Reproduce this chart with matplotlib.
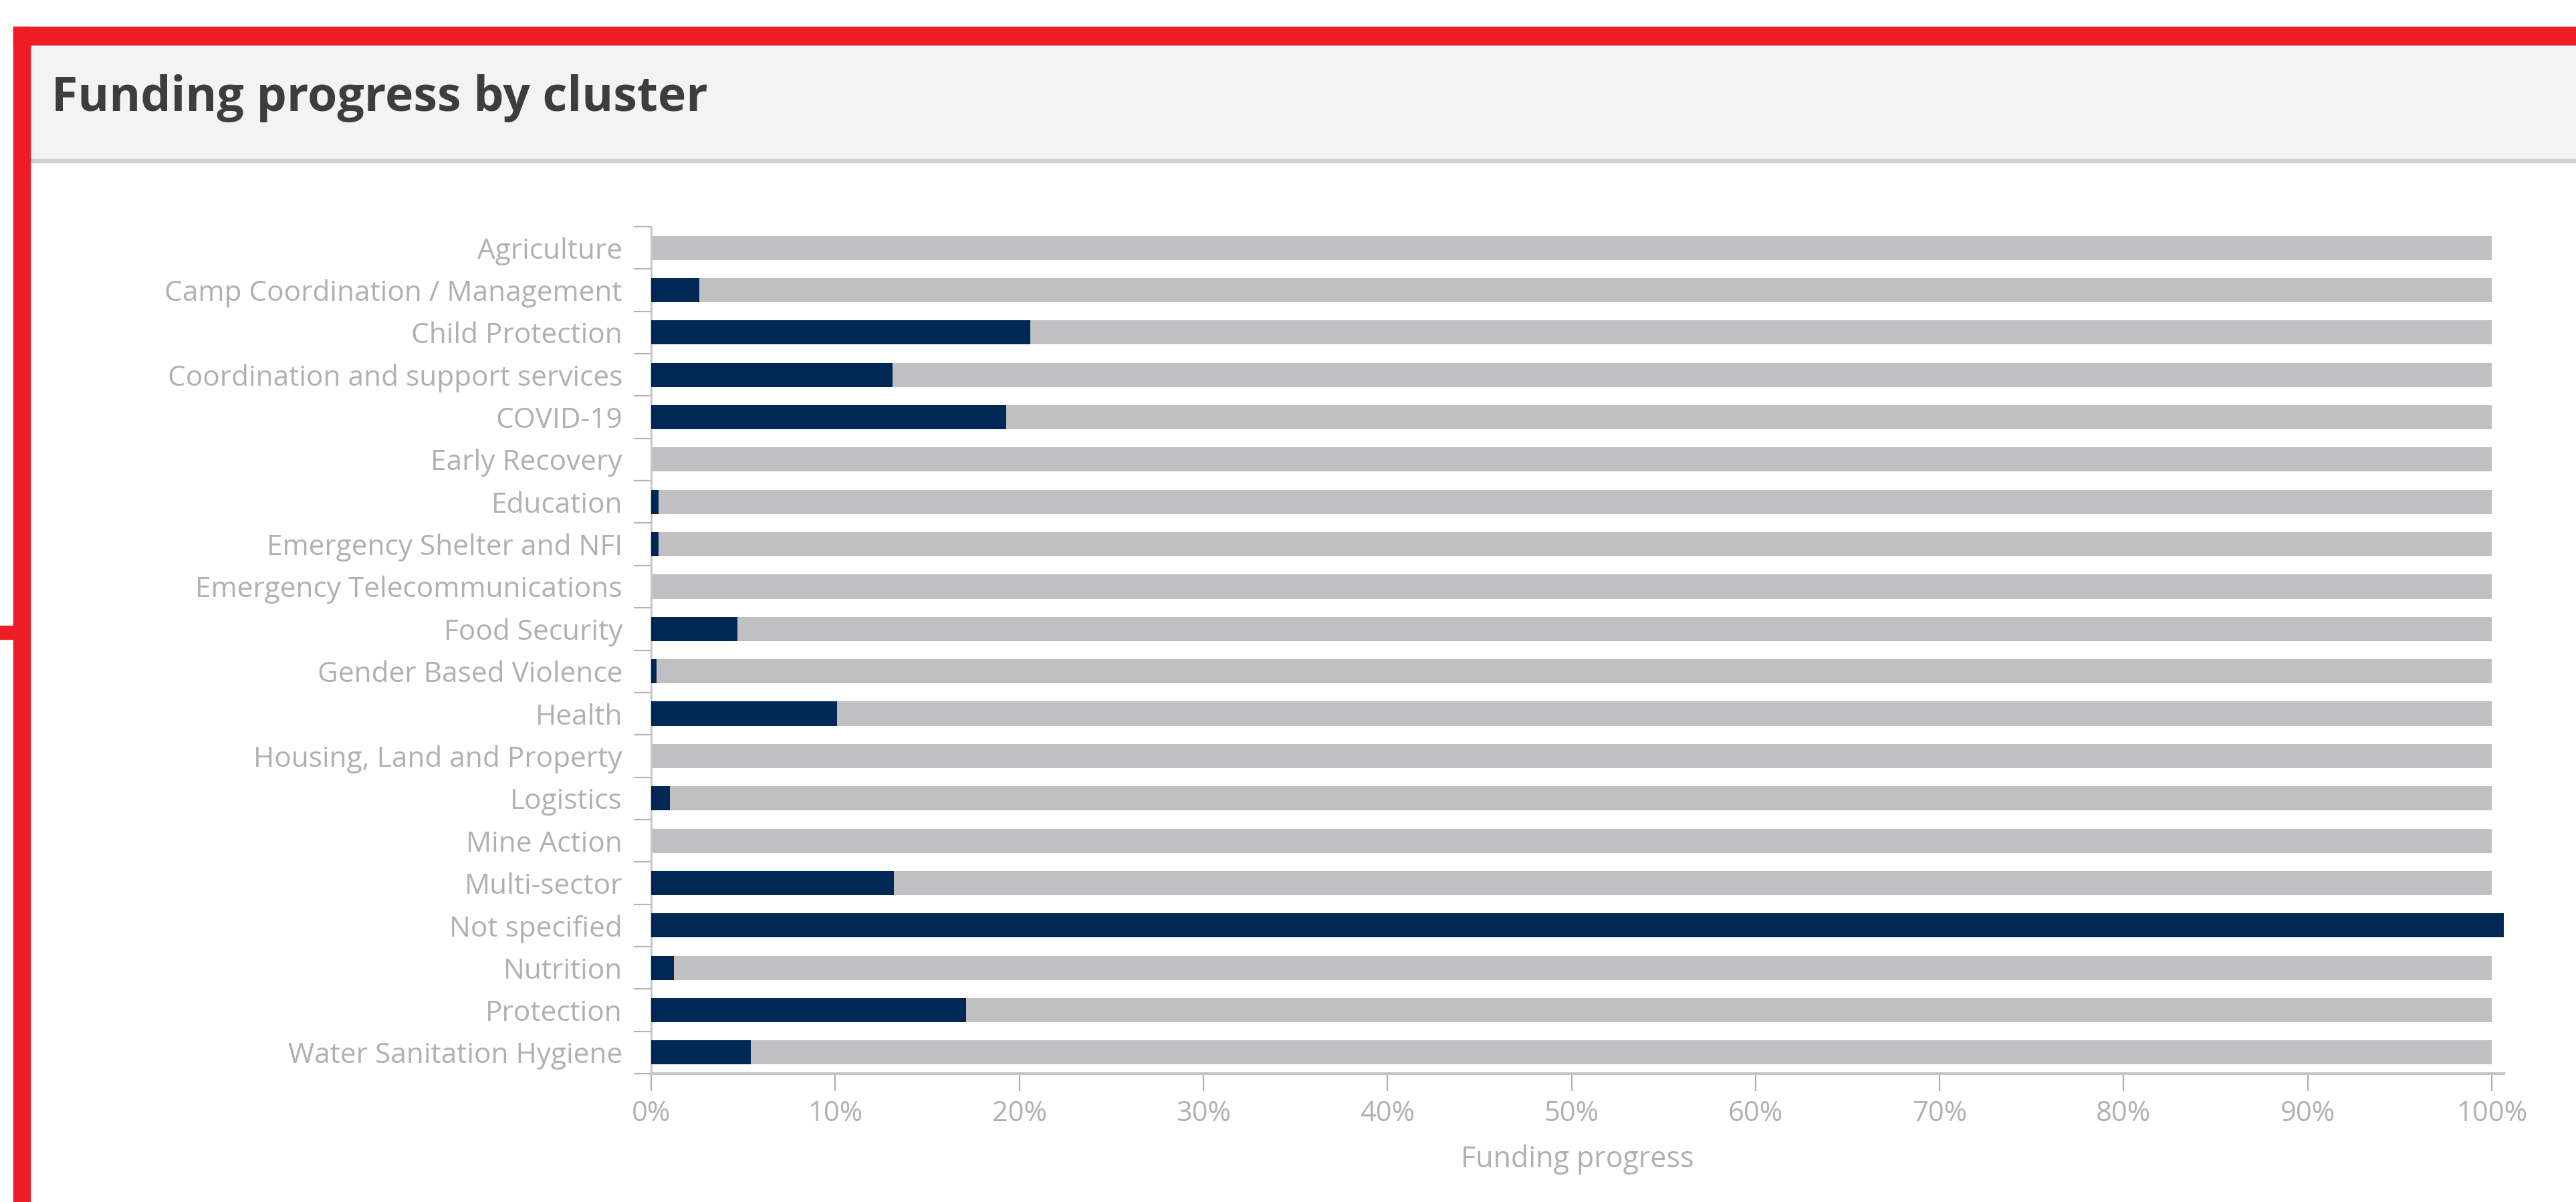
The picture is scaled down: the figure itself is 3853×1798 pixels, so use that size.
import matplotlib
matplotlib.use("Agg")
import matplotlib.pyplot as plt
from matplotlib.patches import Rectangle
from matplotlib.ticker import FixedLocator, FuncFormatter

# Data
clusters = [
    "Agriculture",
    "Camp Coordination / Management",
    "Child Protection",
    "Coordination and support services",
    "COVID-19",
    "Early Recovery",
    "Education",
    "Emergency Shelter and NFI",
    "Emergency Telecommunications",
    "Food Security",
    "Gender Based Violence",
    "Health",
    "Housing, Land and Property",
    "Logistics",
    "Mine Action",
    "Multi-sector",
    "Not specified",
    "Nutrition",
    "Protection",
    "Water Sanitation Hygiene",
]
funded = [0, 2.6, 20.6, 13.1, 19.3, 0, 0.4, 0.4, 0, 4.7,
          0.3, 10.1, 0, 1.0, 0, 13.2, 100.65, 1.25, 17.1, 5.4]
requirement = [100] * len(clusters)
xticks = list(range(0, 101, 10))

W, H = 3853, 1798
DPI = 100
plt.rcParams['font.family'] = ['Open Sans', 'DejaVu Sans']

fig = plt.figure(figsize=(W / DPI, H / DPI), dpi=DPI)
fig.patch.set_facecolor("white")

# frame: header band, red border
red = "#ee1c25"
fig.patches.append(Rectangle((45 / W, 1 - 240 / H), 1 - 45 / W, 173 / H,
                             transform=fig.transFigure, color="#f3f3f3", zorder=0))
fig.patches.append(Rectangle((45 / W, 1 - 243 / H), 1 - 45 / W, 5 / H,
                             transform=fig.transFigure, color="#cfcfcf", zorder=1))
fig.patches.append(Rectangle((20 / W, 1 - 67 / H), 1 - 20 / W, 27 / H,
                             transform=fig.transFigure, color=red, zorder=2))
fig.patches.append(Rectangle((20 / W, 0), 25 / W, 1 - 40 / H,
                             transform=fig.transFigure, color=red, zorder=2))
fig.patches.append(Rectangle((0, 1 - 956 / H), 22 / W, 20 / H,
                             transform=fig.transFigure, color=red, zorder=2))

fig.text(77 / W, 1 - 166 / H, "Funding progress by cluster", fontsize=51.5,
         fontweight="bold", color="#3d3d3d", va="baseline", ha="left")

# chart
ax = fig.add_axes([974 / W, 1 - 1606 / H, (3745 - 974) / W, (1606 - 339) / H])
y = list(range(len(clusters)))
ax.barh(y, requirement, height=0.57, color="#c0c0c2", zorder=2)
ax.barh(y, funded, height=0.57, color="#002856", zorder=3)

ax.set_xlim(0, 100.65)
ax.set_ylim(len(clusters) - 0.5, -0.5)

ax.set_yticks(y)
ax.set_yticklabels(clusters)
ax.yaxis.set_minor_locator(FixedLocator([i - 0.5 for i in range(len(clusters) + 1)]))
ax.tick_params(axis="y", which="major", length=0, pad=31, labelsize=30.5,
               labelcolor="#b0b0b0")
ax.tick_params(axis="y", which="minor", length=19, width=1.6, color="#b5b5b5")

ax.set_xticks(xticks)
ax.xaxis.set_major_formatter(FuncFormatter(lambda v, p: f"{int(v)}%"))
ax.tick_params(axis="x", length=19, width=1.6, color="#b0b0b0", pad=9,
               labelsize=30, labelcolor="#b0b0b0")
ax.set_xlabel("Funding progress", fontsize=31, color="#b0b0b0", labelpad=18)

for s in ["top", "right"]:
    ax.spines[s].set_visible(False)
ax.spines["left"].set_color("#c8c8c8")
ax.spines["left"].set_linewidth(2.2)
ax.spines["bottom"].set_color("#c4c4c4")
ax.spines["bottom"].set_linewidth(3)
ax.set_facecolor("none")

fig.savefig("out.png", dpi=DPI, facecolor="white")
